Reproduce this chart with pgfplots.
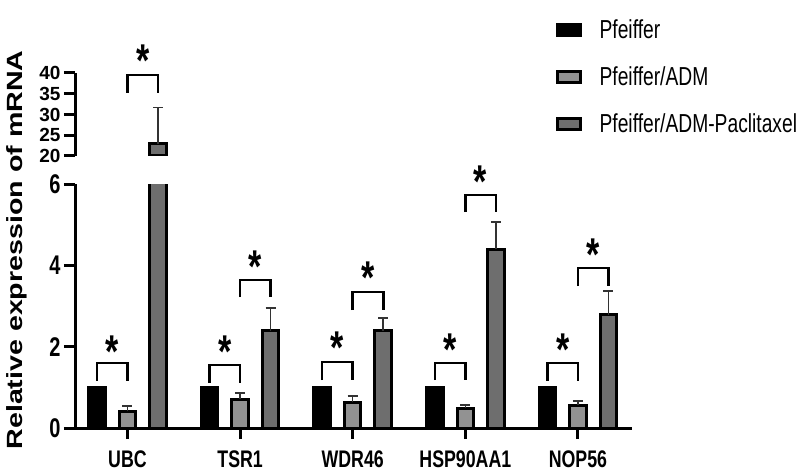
\documentclass[border=0pt]{standalone}
\usepackage{fontspec}
\setmainfont{Liberation Sans}[FakeStretch=0.74]
\newfontfamily\ylabfont{Liberation Sans}[FakeStretch=1.30]
\newfontfamily\plainfont{Liberation Sans}
\usepackage{pgfplots}
\usepackage{pgfplotstable}
\pgfplotsset{compat=1.18}
\definecolor{lgrey}{RGB}{146,146,146}
\definecolor{dgrey}{RGB}{110,110,110}

% x = gene index (0 UBC ... 4 NOP56) shifted to the bar's own position
\pgfplotstableread{
x y
-0.271 1
0.729 1
1.729 1
2.729 1
3.729 1
}\pfeiffer
\pgfplotstableread{
x y e
0 0.41 0.13
1 0.71 0.15
2 0.63 0.16
3 0.49 0.08
4 0.56 0.10
}\adm
\pgfplotstableread{
x y e
0.271 23.0 8.7
1.271 2.39 0.56
2.271 2.39 0.31
3.271 4.39 0.68
4.271 2.79 0.58
}\pacli

\tikzset{ast/.style={font=\bfseries\fontsize{46}{46}\selectfont, anchor=base, yshift=-25pt, inner sep=0pt}}
\pgfplotsset{
  brk/.style={black, line width=2.6pt, mark=none, sharp plot, forget plot, line join=miter, line cap=butt},
  mybar/.style={ybar, bar width=16.5pt, bar shift=0pt, draw=black, line width=3pt},
  myerr/.style={error bars/.cd, y dir=plus, y explicit, error mark=-,
     error bar style={line width=1.5pt, black!80},
     error mark options={rotate=90, line width=1.5pt, black!80, mark size=5pt}},
}

\begin{document}
\begin{tikzpicture}
\useasboundingbox (0,0) rectangle (805pt,472pt);
% lower axis
\begin{axis}[
  at={(75pt,44pt)}, anchor=south west,
  scale only axis, width=557pt, height=244pt,
  xmin=-0.466, xmax=4.48, ymin=0, ymax=6,
  axis x line=bottom, axis y line=left,
  axis line style={line width=3pt, -},
  tick style={line width=3pt, black},
  tick align=outside, major tick length=11pt,
  xtick={0,1,2,3,4}, xticklabels={UBC,TSR1,WDR46,HSP90AA1,NOP56},
  ytick={0,2,4,6},
  /pgf/number format/assume math mode=true,
  x tick label style={font=\bfseries\fontsize{24}{24}\selectfont, yshift=-8pt},
  y tick label style={font=\bfseries\fontsize{27}{27}\selectfont},
  clip mode=individual,
  legend style={at={(0.858,1.688)}, anchor=north west, draw=none, fill=none,
    font=\fontsize{26}{26}\selectfont, row sep=25pt,
    nodes={inner xsep=8pt, inner ysep=1pt}},
  legend cell align=left,
  legend image code/.code={\draw[#1, line width=2.8pt] (1.4pt,-5.6pt) rectangle (24.6pt,5.6pt); \path (34pt,0pt);},
]
\addplot[mybar, fill=black] table[x=x,y=y] {\pfeiffer};
\addplot[mybar, fill=lgrey, myerr] table[x=x,y=y,y error=e] {\adm};
\addplot[mybar, fill=dgrey, myerr] table[x=x,y=y,y error=e] {\pacli};
\legend{Pfeiffer,Pfeiffer/ADM,Pfeiffer/ADM-Paclitaxel}
% brackets Pfeiffer vs ADM
\addplot[brk] coordinates {(-0.271,1.16)(-0.271,1.60)(0,1.60)(0,1.16)};
\addplot[brk] coordinates {(0.729,1.11)(0.729,1.55)(1,1.55)(1,1.11)};
\addplot[brk] coordinates {(1.729,1.18)(1.729,1.62)(2,1.62)(2,1.18)};
\addplot[brk] coordinates {(2.729,1.18)(2.729,1.60)(3,1.60)(3,1.18)};
\addplot[brk] coordinates {(3.729,1.16)(3.729,1.60)(4,1.60)(4,1.16)};
% brackets ADM vs Paclitaxel
\addplot[brk] coordinates {(1,3.22)(1,3.64)(1.271,3.64)(1.271,3.22)};
\addplot[brk] coordinates {(2,2.90)(2,3.34)(2.271,3.34)(2.271,2.90)};
\addplot[brk] coordinates {(3,5.31)(3,5.73)(3.271,5.73)(3.271,5.31)};
\addplot[brk] coordinates {(4,3.49)(4,3.93)(4.271,3.93)(4.271,3.49)};
\node[ast] at (axis cs:-0.1355,2.11) {*};
\node[ast] at (axis cs:0.8645,2.11) {*};
\node[ast] at (axis cs:1.8645,2.21) {*};
\node[ast] at (axis cs:2.8645,2.16) {*};
\node[ast] at (axis cs:3.8645,2.16) {*};
\node[ast] at (axis cs:1.1355,4.20) {*};
\node[ast] at (axis cs:2.1355,3.93) {*};
\node[ast] at (axis cs:3.1355,6.29) {*};
\node[ast] at (axis cs:4.1355,4.50) {*};
\end{axis}
% upper axis
\begin{axis}[
  at={(75pt,316pt)}, anchor=south west,
  scale only axis, width=557pt, height=83pt,
  xmin=-0.466, xmax=4.48, ymin=20, ymax=40,
  axis x line=none, axis y line=left,
  axis line style={line width=3pt, -},
  tick style={line width=3pt, black},
  tick align=outside, major tick length=11pt,
  ytick={20,25,30,35,40},
  /pgf/number format/assume math mode=true,
  y tick label style={font=\plainfont\bfseries\fontsize{19}{19}\selectfont},
  clip mode=individual,
]
\addplot[mybar, fill=dgrey, myerr] coordinates {(0.271,23.0) +- (0,8.7)};
\addplot[brk] coordinates {(0,35.2)(0,39.5)(0.271,39.5)(0.271,35.2)};
\node[ast] at (axis cs:0.1355,45.1) {*};
\end{axis}
\node[rotate=90, font=\ylabfont\bfseries\fontsize{22}{22}\selectfont] at (17pt,222pt) {Relative expression of mRNA};
\end{tikzpicture}
\end{document}
